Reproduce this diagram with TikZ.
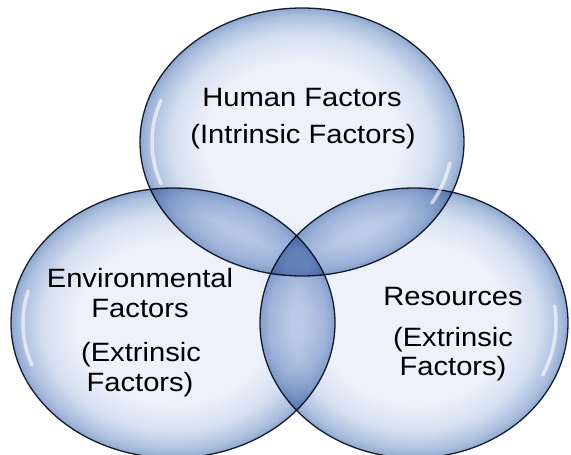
\documentclass[tikz,border=0pt]{standalone}
\usepackage{fontspec}
\setmainfont{Liberation Sans}[FakeStretch=1.1]
\usetikzlibrary{shapes.geometric}

\definecolor{bubblein}{HTML}{EDF1FA}
\definecolor{bubblemid}{HTML}{D6E0F1}
\definecolor{bubbleout}{HTML}{ADC0DF}
\definecolor{bubbleedge}{HTML}{90A8CF}
\definecolor{rim}{HTML}{1A2535}

% light centre, darker glassy rim
\pgfdeclareradialshading{bubbleshade}{\pgfpoint{0bp}{0bp}}{%
  color(0bp)=(bubblein); color(15bp)=(bubblein); color(20bp)=(bubblemid);
  color(23.5bp)=(bubbleout); color(25bp)=(bubbleedge); color(50bp)=(bubbleedge)}

\tikzset{
  bubble/.style={ellipse, inner sep=0pt, draw=rim, line width=1.3pt,
    shade, shading=bubbleshade},
  gloss/.style={white, line width=3.5pt, line cap=round, opacity=0.6},
  caption/.style={anchor=base, inner sep=0pt, text=black,
    font=\fontsize{26.5}{30}\selectfont}
}

\begin{document}
\begin{tikzpicture}[x=1pt, y=-1pt]
\useasboundingbox (0,0) rectangle (571,455);
\fill[white] (0,0) rectangle (571,455);

% the three overlapping bubbles, darkened where they overlap
\begin{scope}[blend mode=multiply]
  \node[bubble, minimum width=324pt, minimum height=268pt] (human) at (302,142) {};
  \node[bubble, minimum width=324pt, minimum height=270pt] (env) at (173,323) {};
  \node[bubble, minimum width=308pt, minimum height=270pt] (res) at (414,323) {};
\end{scope}

% glossy reflections inside the rims
\draw[gloss] (human.center) ++(200:150pt and 122pt) arc[start angle=200, end angle=160, x radius=150pt, y radius=122pt];
\draw[gloss] (human.center) ++(-30:150pt and 122pt) arc[start angle=-30, end angle=-10, x radius=150pt, y radius=122pt];
\draw[gloss] (env.center) ++(200:150pt and 123pt) arc[start angle=200, end angle=165, x radius=150pt, y radius=123pt];
\draw[gloss] (res.center) ++(-25:142pt and 123pt) arc[start angle=-25, end angle=8, x radius=142pt, y radius=123pt];

% labels
\node[caption] (h1) at (302,106) {Human Factors};
\node[caption] (h2) at (303,143) {(Intrinsic Factors)};

\node[caption] (e1) at (140,287) {Environmental};
\node[caption] (e2) at (140,317) {Factors};
\node[caption] (e3) at (141,361) {(Extrinsic};
\node[caption] (e4) at (140,391) {Factors)};

\node[caption] (r1) at (453,305) {Resources};
\node[caption] (r2) at (453,346) {(Extrinsic};
\node[caption] (r3) at (453,375) {Factors)};
\end{tikzpicture}
\end{document}
